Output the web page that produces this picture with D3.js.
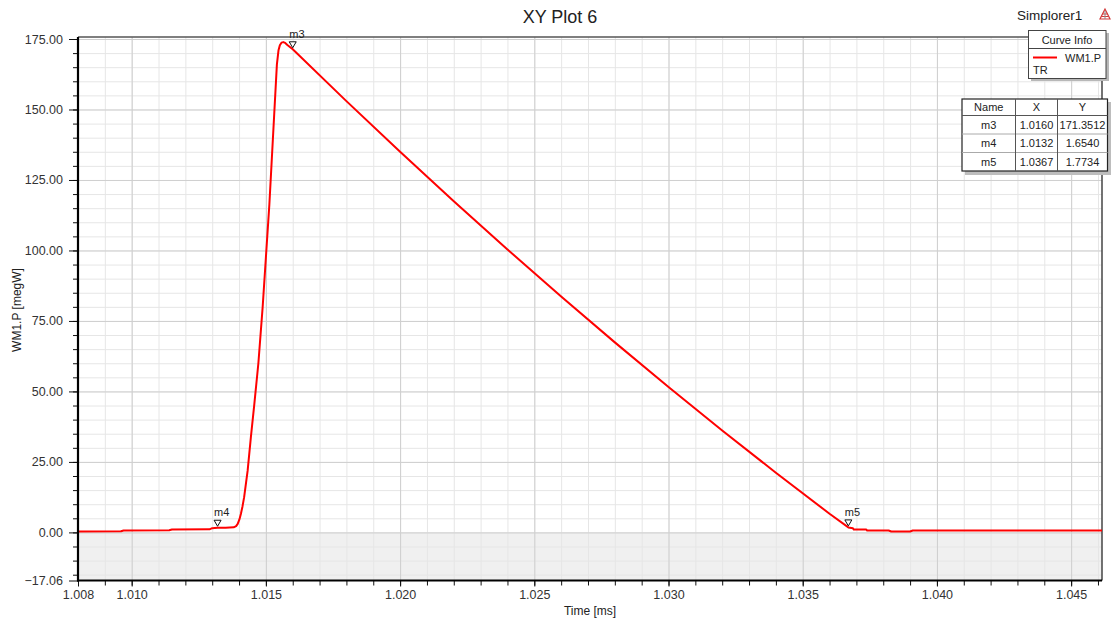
<!DOCTYPE html>
<html>
<head>
<meta charset="utf-8">
<script src="https://cdn.jsdelivr.net/npm/d3@7"></script>
<style>
  body { margin: 0; background: #fff; }
  svg { display: block; font-family: "Liberation Sans", Arial, sans-serif; }
</style>
</head>
<body>
<svg id="chart" width="1111" height="622"></svg>
<script>
// WM1.P power trace (megW) against time (ms)
const timeMs = [
  1.0080, 1.0096, 1.0097, 1.0114, 1.0115, 1.0129, 1.0130, 1.0132, 1.0135, 1.0138,
  1.01389, 1.01395, 1.01401, 1.01407, 1.01413, 1.01419, 1.01432, 1.01444, 1.01457, 1.01472,
  1.01488, 1.01500, 1.01513, 1.01521, 1.01531, 1.01541, 1.01547, 1.01552, 1.01558, 1.01565,
  1.01572, 1.01580, 1.0160, 1.0180, 1.0200, 1.0220, 1.0240, 1.0260, 1.0280, 1.0300,
  1.0320, 1.0340, 1.0360, 1.0367, 1.03687, 1.0369, 1.03737, 1.0374, 1.0382, 1.0383,
  1.0390, 1.0391, 1.04615
];
const powerMW = [
  0.35, 0.40, 0.70, 0.75, 1.00, 1.10, 1.50, 1.654, 1.65, 1.80,
  2.2, 3.0, 4.5, 6.6, 9.3, 12.5, 21.9, 33.7, 45.6, 60.0,
  80.0, 97.5, 116.4, 130.6, 148.3, 166.0, 171.0, 172.8, 173.7, 173.9,
  173.6, 172.9, 171.35, 152.96, 135.0, 117.46, 100.35, 83.66, 67.40, 51.57,
  36.15, 21.17, 6.61, 1.77, 1.5, 1.0, 1.0, 0.67, 0.67, 0.30,
  0.30, 0.67, 0.67
];

// Markers
const markerNames = ["m3", "m4", "m5"];
const markerX = [1.0160, 1.0132, 1.0367];
const markerY = [171.3512, 1.6540, 1.7734];

// Axis ticks and labels
const xDomain = [1.008, 1.04615];
const yDomain = [-17.06, 175];
const xMajorTicks = [1.008, 1.010, 1.015, 1.020, 1.025, 1.030, 1.035, 1.040, 1.045];
const xGridMajor = [1.010, 1.015, 1.020, 1.025, 1.030, 1.035, 1.040, 1.045];
const xMinorTicks = d3.range(1009, 1047).map(d => d / 1000);
const yMajorTicks = [-17.06, 0, 25, 50, 75, 100, 125, 150, 175];
const yGridMajor = [0, 25, 50, 75, 100, 125, 150, 175];
const yMinorTicks = d3.range(-15, 176, 5);

const svg = d3.select("#chart");
const plotLeft = 78, plotRight = 1102, plotTop = 37, plotBottom = 580.5;

const x = d3.scaleLinear().domain(xDomain).range([plotLeft, plotRight]);
const y = d3.scaleLinear().domain(yDomain).range([plotBottom, 39]);

// Plot background, grey band below zero
svg.append("rect").attr("x", plotLeft).attr("y", plotTop).attr("width", plotRight - plotLeft).attr("height", plotBottom - plotTop).attr("fill", "#fff");
svg.append("rect").attr("x", plotLeft).attr("y", y(0)).attr("width", plotRight - plotLeft).attr("height", plotBottom - y(0)).attr("fill", "#f0f0f0");

// Grid lines
function grid(axis, color) {
  return g => {
    g.call(axis);
    g.select(".domain").remove();
    g.selectAll("text").remove();
    g.selectAll("line").attr("stroke", color).attr("stroke-width", 1);
  };
}
svg.append("g").attr("transform", `translate(0,${plotBottom})`)
  .call(grid(d3.axisBottom(x).tickValues(xMinorTicks).tickSize(-(plotBottom - plotTop)).tickFormat(""), "#e6e6e6"));
svg.append("g").attr("transform", `translate(${plotLeft},0)`)
  .call(grid(d3.axisLeft(y).tickValues(yMinorTicks).tickSize(-(plotRight - plotLeft)).tickFormat(""), "#e6e6e6"));
svg.append("g").attr("transform", `translate(0,${plotBottom})`)
  .call(grid(d3.axisBottom(x).tickValues(xGridMajor).tickSize(-(plotBottom - plotTop)).tickFormat(""), "#cfcfcf"));
svg.append("g").attr("transform", `translate(${plotLeft},0)`)
  .call(grid(d3.axisLeft(y).tickValues(yGridMajor).tickSize(-(plotRight - plotLeft)).tickFormat(""), "#cfcfcf"));

// Frame: top and right borders
svg.append("line").attr("x1", plotLeft).attr("x2", plotRight).attr("y1", plotTop).attr("y2", plotTop).attr("stroke", "#555").attr("stroke-width", 1.5);
svg.append("line").attr("x1", plotRight).attr("x2", plotRight).attr("y1", plotTop).attr("y2", plotBottom).attr("stroke", "#444").attr("stroke-width", 1.5);

// Curve
const line = d3.line().x((d, i) => x(timeMs[i])).y(d => y(d)).curve(d3.curveLinear);
svg.append("path").attr("d", line(powerMW)).attr("fill", "none").attr("stroke", "#ff0000")
  .attr("stroke-width", 2).attr("stroke-linejoin", "round");

// Axes: minor ticks
svg.append("g").attr("transform", `translate(0,${plotBottom})`)
  .call(d3.axisBottom(x).tickValues(xMinorTicks).tickSize(5).tickFormat(""))
  .call(g => { g.select(".domain").remove(); g.selectAll("line").attr("stroke", "#111"); });
svg.append("g").attr("transform", `translate(${plotLeft},0)`)
  .call(d3.axisLeft(y).tickValues(yMinorTicks).tickSize(5).tickFormat(""))
  .call(g => { g.select(".domain").remove(); g.selectAll("line").attr("stroke", "#111"); });

// Axes: major ticks with labels
const xAxis = svg.append("g").attr("transform", `translate(0,${plotBottom})`)
  .call(d3.axisBottom(x).tickValues(xMajorTicks).tickSize(6).tickPadding(4).tickFormat(d3.format(".3f")));
xAxis.select(".domain").remove();
xAxis.selectAll("line").attr("stroke", "#111");
xAxis.selectAll("text").attr("font-size", "12.5px").attr("fill", "#333").attr("font-family", "Liberation Sans, Arial, sans-serif");

const yAxis = svg.append("g").attr("transform", `translate(${plotLeft},0)`)
  .call(d3.axisLeft(y).tickValues(yMajorTicks).tickSize(9).tickPadding(6).tickFormat(d3.format(".2f")));
yAxis.select(".domain").remove();
yAxis.selectAll("line").attr("stroke", "#111");
yAxis.selectAll("text").attr("font-size", "12.5px").attr("fill", "#333").attr("font-family", "Liberation Sans, Arial, sans-serif");

// Thick left and bottom axis lines
svg.append("line").attr("x1", plotLeft).attr("x2", plotLeft).attr("y1", plotTop).attr("y2", plotBottom + 1).attr("stroke", "#000").attr("stroke-width", 2.2);
svg.append("line").attr("x1", plotLeft - 1).attr("x2", plotRight).attr("y1", plotBottom).attr("y2", plotBottom).attr("stroke", "#000").attr("stroke-width", 2.2);

// Markers
markerNames.forEach((name, i) => {
  const px = x(markerX[i]), py = y(markerY[i]) - 1.5;
  svg.append("path")
    .attr("d", `M${px - 3.5},${py - 6} L${px + 3.5},${py - 6} L${px},${py} Z`)
    .attr("fill", "#fff").attr("stroke", "#111").attr("stroke-width", 1);
  svg.append("text").attr("x", px - 3.5).attr("y", py - 10).text(name)
    .attr("font-size", "11px").attr("fill", "#222");
});

// Titles
svg.append("text").attr("x", 560).attr("y", 23).attr("text-anchor", "middle")
  .attr("font-size", "18px").attr("fill", "#222").text("XY Plot 6");
svg.append("text").attr("x", 1017).attr("y", 20)
  .attr("font-size", "13.5px").attr("fill", "#222").text("Simplorer1");
svg.append("text").attr("x", 590).attr("y", 615).attr("text-anchor", "middle")
  .attr("font-size", "12px").attr("fill", "#222").text("Time [ms]");
svg.append("text").attr("transform", "translate(21,310) rotate(-90)").attr("text-anchor", "middle")
  .attr("font-size", "12px").attr("fill", "#222").text("WM1.P [megW]");

// Small logo glyph
const logo = svg.append("g").attr("transform", "translate(1105,9)");
logo.append("path").attr("d", "M0,0 L-5,10 L5,10 Z").attr("fill", "none").attr("stroke", "#d23a3a").attr("stroke-width", 1.2);
logo.append("path").attr("d", "M-2.5,5 L2.5,5 M-3.5,7.5 L3.5,7.5").attr("stroke", "#d23a3a").attr("stroke-width", 1);
logo.append("line").attr("x1", 0).attr("x2", 0).attr("y1", 2).attr("y2", 10).attr("stroke", "#888").attr("stroke-width", 1);

// Legend box
const lg = svg.append("g");
lg.append("rect").attr("x", 1031).attr("y", 33).attr("width", 78).attr("height", 48).attr("fill", "#b8b8b8");
lg.append("rect").attr("x", 1028.5).attr("y", 30.5).attr("width", 77.5).attr("height", 48).attr("fill", "#fff").attr("stroke", "#444").attr("stroke-width", 1);
lg.append("line").attr("x1", 1028.5).attr("x2", 1106).attr("y1", 48.5).attr("y2", 48.5).attr("stroke", "#444");
lg.append("text").attr("x", 1067).attr("y", 44).attr("text-anchor", "middle").attr("font-size", "11px").attr("fill", "#222").text("Curve Info");
lg.append("line").attr("x1", 1033).attr("x2", 1057).attr("y1", 57.5).attr("y2", 57.5).attr("stroke", "#ff0000").attr("stroke-width", 2);
lg.append("text").attr("x", 1065).attr("y", 62).attr("font-size", "11px").attr("fill", "#222").text("WM1.P");
lg.append("text").attr("x", 1033).attr("y", 74).attr("font-size", "11px").attr("fill", "#222").text("TR");

// Marker table
const colEdges = [962, 1015.5, 1057.5, 1107.5];
const rowEdges = [99, 115.5, 134, 152.5, 171];
const tableHeader = ["Name", "X", "Y"];
const tableRows = markerNames.map((n, i) => [n, markerX[i].toFixed(4), markerY[i].toFixed(4)]);
const tb = svg.append("g");
tb.append("rect").attr("x", 965).attr("y", 102).attr("width", 146).attr("height", 73).attr("fill", "#bdbdbd");
tb.append("rect").attr("x", colEdges[0]).attr("y", rowEdges[0]).attr("width", colEdges[3] - colEdges[0]).attr("height", rowEdges[4] - rowEdges[0])
  .attr("fill", "#fff").attr("stroke", "#222").attr("stroke-width", 1.2);
rowEdges.slice(1, 4).forEach(r => tb.append("line").attr("x1", colEdges[0]).attr("x2", colEdges[3]).attr("y1", r).attr("y2", r)
  .attr("stroke", r === rowEdges[1] ? "#555" : "#aaa").attr("stroke-width", 1));
colEdges.slice(1, 3).forEach(c => tb.append("line").attr("x1", c).attr("x2", c).attr("y1", rowEdges[0]).attr("y2", rowEdges[4])
  .attr("stroke", "#555").attr("stroke-width", 1));
[tableHeader, ...tableRows].forEach((row, ri) => {
  row.forEach((cell, ci) => {
    tb.append("text")
      .attr("x", (colEdges[ci] + colEdges[ci + 1]) / 2)
      .attr("y", (rowEdges[ri] + rowEdges[ri + 1]) / 2 + 4)
      .attr("text-anchor", "middle").attr("font-size", "11px").attr("fill", "#222").text(cell);
  });
});
</script>
</body>
</html>
